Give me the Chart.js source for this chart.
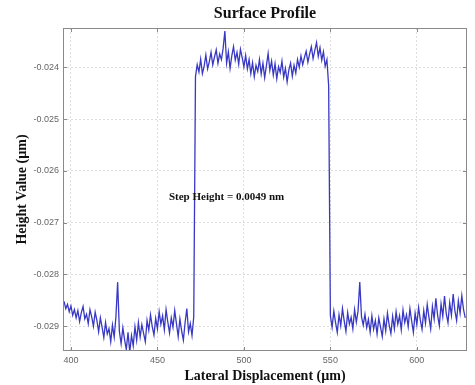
<!DOCTYPE html>
<html lang="en">

<head>
    <meta charset="UTF-8">
    <title>Surface Profile</title>
    <script src="https://cdn.jsdelivr.net/npm/chart.js@4"></script>
    <style>
        html, body { margin: 0; padding: 0; background: #fff; }
        #wrap { width: 475px; height: 385px; }
    </style>
</head>

<body>
    <div id="wrap"><canvas id="profileChart" width="475" height="385"></canvas></div>

    <script>
        // profile samples, 1 um apart, heights in um
        const leftStartX = 396;
        const leftHeights = [
            -0.02852, -0.02866, -0.02858, -0.02872, -0.02861, -0.02879, -0.02868, -0.02884, -0.02870, -0.02891,
            -0.02874, -0.02862, -0.02886, -0.02877, -0.02895, -0.02868, -0.02882, -0.02900, -0.02873, -0.02889,
            -0.02911, -0.02884, -0.02902, -0.02922, -0.02893, -0.02915, -0.02905, -0.02930, -0.02898, -0.02921,
            -0.02882, -0.02815, -0.02910, -0.02934, -0.02903, -0.02926, -0.02945, -0.02912, -0.02950, -0.02918,
            -0.02938, -0.02901, -0.02927, -0.02893, -0.02921, -0.02897, -0.02914, -0.02930, -0.02889, -0.02908,
            -0.02878, -0.02901, -0.02917, -0.02885, -0.02905, -0.02872, -0.02896, -0.02880, -0.02907, -0.02868,
            -0.02892, -0.02913, -0.02884, -0.02902, -0.02870, -0.02895, -0.02920, -0.02886, -0.02909, -0.02927,
            -0.02893, -0.02866, -0.02911, -0.02895, -0.02918, -0.02882
        ];

        const stepStartX = 472;
        const stepHeights = [
            -0.02418, -0.02395, -0.02409, -0.02384, -0.02412, -0.02398, -0.02376, -0.02403, -0.02389, -0.02371,
            -0.02395, -0.02380, -0.02366, -0.02392, -0.02374, -0.02385, -0.02363, -0.02330, -0.02392, -0.02370,
            -0.02402, -0.02378, -0.02360, -0.02386, -0.02371, -0.02394, -0.02365, -0.02381, -0.02399, -0.02377,
            -0.02403, -0.02385, -0.02412, -0.02391, -0.02418, -0.02396, -0.02408, -0.02385, -0.02413, -0.02392,
            -0.02420, -0.02397, -0.02373, -0.02406, -0.02388, -0.02415, -0.02393, -0.02422, -0.02399, -0.02410,
            -0.02388, -0.02419, -0.02402, -0.02428, -0.02405, -0.02392, -0.02417, -0.02396, -0.02411, -0.02385,
            -0.02400, -0.02378, -0.02395, -0.02381, -0.02369, -0.02390, -0.02374, -0.02360, -0.02383, -0.02367,
            -0.02352, -0.02379, -0.02362, -0.02386, -0.02370, -0.02398, -0.02385, -0.02435
        ];

        const rightStartX = 550;
        const rightHeights = [
            -0.02880, -0.02902, -0.02871, -0.02893, -0.02912, -0.02878, -0.02899, -0.02866, -0.02890, -0.02910,
            -0.02874, -0.02896, -0.02883, -0.02905, -0.02868, -0.02892, -0.02871, -0.02815, -0.02882, -0.02898,
            -0.02877, -0.02903, -0.02887, -0.02912, -0.02880, -0.02906, -0.02889, -0.02915, -0.02884, -0.02902,
            -0.02920, -0.02886, -0.02909, -0.02875, -0.02898, -0.02914, -0.02881, -0.02905, -0.02872, -0.02896,
            -0.02880, -0.02907, -0.02869, -0.02893, -0.02878, -0.02901, -0.02866, -0.02890, -0.02912, -0.02875,
            -0.02897, -0.02864, -0.02888, -0.02906, -0.02870, -0.02894, -0.02858, -0.02883, -0.02905, -0.02862,
            -0.02886, -0.02846, -0.02879, -0.02899, -0.02857, -0.02881, -0.02842, -0.02876, -0.02893, -0.02855,
            -0.02879, -0.02838, -0.02870, -0.02889, -0.02851, -0.02875, -0.02841, -0.02868, -0.02884
        ];

        const xTicks = [400, 450, 500, 550, 600];
        const yTicks = [-0.024, -0.025, -0.026, -0.027, -0.028, -0.029];

        const stepLabel = 'Step Height = 0.0049 nm';
        const stepLabelX = 490;
        const stepLabelY = -0.0265;

        function toPoints(startX, heights) {
            return heights.map((h, i) => ({ x: startX + i, y: h }));
        }

        const profile = [
            ...toPoints(leftStartX, leftHeights),
            ...toPoints(stepStartX, stepHeights),
            ...toPoints(rightStartX, rightHeights)
        ];

        const serif = "'Liberation Serif', 'Times New Roman', serif";
        const sans = "'Liberation Sans', Arial, sans-serif";

        // box around the plot, inward ticks, title and the step note
        const frame = {
            id: 'frame',
            afterDraw(chart) {
                const { ctx, chartArea: a, scales } = chart;
                ctx.save();
                ctx.strokeStyle = '#8a8a8a';
                ctx.lineWidth = 1;
                ctx.strokeRect(a.left + 0.5, a.top + 0.5, a.right - a.left - 1, a.bottom - a.top - 1);

                ctx.beginPath();
                xTicks.forEach(v => {
                    const px = Math.round(scales.x.getPixelForValue(v)) + 0.5;
                    ctx.moveTo(px, a.bottom); ctx.lineTo(px, a.bottom - 4);
                    ctx.moveTo(px, a.top); ctx.lineTo(px, a.top + 4);
                });
                yTicks.forEach(v => {
                    const py = Math.round(scales.y.getPixelForValue(v)) + 0.5;
                    ctx.moveTo(a.left, py); ctx.lineTo(a.left + 4, py);
                    ctx.moveTo(a.right, py); ctx.lineTo(a.right - 4, py);
                });
                ctx.stroke();

                ctx.fillStyle = '#111';
                ctx.textAlign = 'center';
                ctx.textBaseline = 'middle';
                ctx.font = 'bold 16px ' + serif;
                ctx.fillText('Surface Profile', (a.left + a.right) / 2, 14);

                ctx.font = 'bold 11px ' + serif;
                ctx.fillText(stepLabel, scales.x.getPixelForValue(stepLabelX), scales.y.getPixelForValue(stepLabelY));
                ctx.restore();
            }
        };

        const config = {
            type: 'line',
            data: {
                datasets: [{
                    label: 'Profile',
                    data: profile,
                    borderColor: 'rgba(34, 34, 190, 0.9)',
                    borderWidth: 1.3,
                    pointRadius: 0,
                    tension: 0,
                    fill: false
                }]
            },
            options: {
                responsive: false,
                animation: false,
                layout: { padding: { top: 28, right: 8, left: 0, bottom: 0 } },
                plugins: {
                    legend: { display: false },
                    tooltip: { enabled: false }
                },
                scales: {
                    x: {
                        type: 'linear',
                        min: 395.4,
                        max: 629,
                        afterBuildTicks: s => { s.ticks = xTicks.map(v => ({ value: v })); },
                        afterFit: s => { s.height = 34; },
                        grid: { color: '#dedede', drawTicks: false },
                        border: { display: false, dash: [2, 2] },
                        ticks: {
                            padding: 4,
                            color: '#666',
                            font: { family: sans, size: 9 },
                            maxRotation: 0
                        },
                        title: {
                            display: true,
                            text: 'Lateral Displacement (\u00b5m)',
                            color: '#111',
                            font: { family: serif, size: 14, weight: 'bold' },
                            padding: { top: 1, bottom: 0 }
                        }
                    },
                    y: {
                        type: 'linear',
                        min: -0.02948,
                        max: -0.02324,
                        afterBuildTicks: s => { s.ticks = yTicks.map(v => ({ value: v })); },
                        afterFit: s => { s.width = 63; },
                        grid: { color: '#dedede', drawTicks: false },
                        border: { display: false, dash: [2, 2] },
                        ticks: {
                            padding: 4,
                            color: '#666',
                            font: { family: sans, size: 9 },
                            callback: v => v.toFixed(3)
                        },
                        title: {
                            display: true,
                            text: 'Height Value (\u00b5m)',
                            color: '#111',
                            font: { family: serif, size: 14, weight: 'bold' },
                            padding: { top: 14, bottom: 0 }
                        }
                    }
                }
            },
            plugins: [frame]
        };

        new Chart(document.getElementById('profileChart').getContext('2d'), config);
    </script>
</body>

</html>
